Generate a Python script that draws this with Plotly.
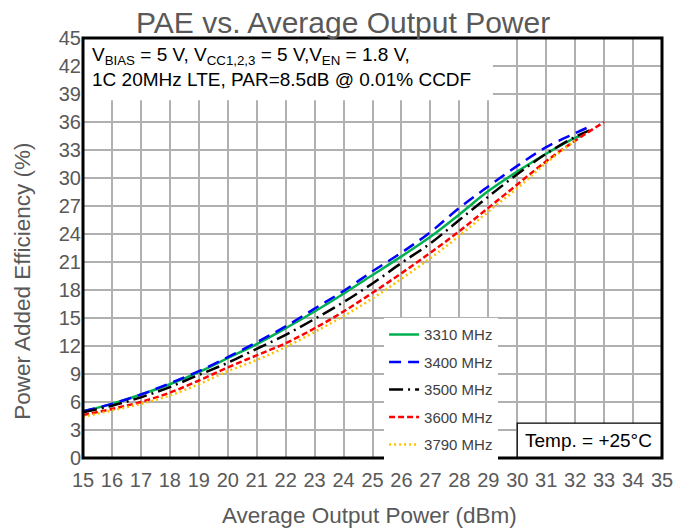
import plotly.graph_objects as go

# ---- data ----
x_3310 = [15, 16, 17, 18, 19, 20, 21, 22, 23, 24, 25, 26, 27, 28, 29, 30, 31, 32, 32.2]
y_3310 = [5.0, 5.8, 6.8, 7.9, 9.2, 10.7, 12.2, 13.9, 15.7, 17.6, 19.6, 21.6, 23.7, 26.1, 28.6, 30.7, 32.6, 34.3, 34.5]

x_3400 = [15, 16, 17, 18, 19, 20, 21, 22, 23, 24, 25, 26, 27, 28, 29, 30, 31, 32, 32.5]
y_3400 = [5.0, 5.8, 6.8, 8.0, 9.3, 10.8, 12.4, 14.1, 16.0, 17.9, 20.0, 22.0, 24.2, 26.8, 29.1, 31.3, 33.3, 34.8, 35.5]

x_3500 = [15, 16, 17, 18, 19, 20, 21, 22, 23, 24, 25, 26, 27, 28, 29, 30, 31, 32, 32.5]
y_3500 = [4.9, 5.6, 6.5, 7.6, 8.9, 10.2, 11.7, 13.2, 14.9, 16.7, 18.7, 20.9, 23.0, 25.5, 28.0, 30.4, 32.6, 34.4, 35.1]

x_3600 = [15, 16, 17, 18, 19, 20, 21, 22, 23, 24, 25, 26, 27, 28, 29, 30, 31, 32, 33]
y_3600 = [4.6, 5.25, 6.0, 7.0, 8.3, 9.7, 11.0, 12.3, 13.9, 15.7, 17.7, 19.8, 22.0, 24.3, 26.8, 29.3, 31.8, 34.0, 36.0]

x_3790 = [15, 16, 17, 18, 19, 20, 21, 22, 23, 24, 25, 26, 27, 28, 29, 30, 31, 32]
y_3790 = [4.4, 5.1, 5.8, 6.7, 7.9, 9.3, 10.5, 11.9, 13.5, 15.2, 17.1, 19.2, 21.4, 23.8, 26.4, 28.9, 31.6, 34.0]

x_ticks = list(range(15, 36))
y_ticks = list(range(0, 46, 3))

series = [
    ("3310 MHz", x_3310, y_3310, "#00b050", "solid"),
    ("3400 MHz", x_3400, y_3400, "#0000ff", "12px,7px"),
    ("3500 MHz", x_3500, y_3500, "#000000", "14px,5px,2px,5px"),
    ("3600 MHz", x_3600, y_3600, "#ff0000", "6px,3px"),
    ("3790 MHz", x_3790, y_3790, "#ffc000", "2px,3px"),
]

FONT = "Liberation Sans, Arial, sans-serif"

fig = go.Figure()
for i, (name, xs, ys, col, dash) in enumerate(series):
    fig.add_trace(go.Scatter(
        x=xs, y=ys, name=name, mode="lines",
        line=dict(color=col, width=2.5, dash=dash, shape="spline"),
        legendgroup=f"g{i}",
    ))

grid_col = "#b0b0b0"
tick_font = dict(family=FONT, size=20, color="#595959")

fig.update_layout(
    width=691, height=531,
    margin=dict(l=75, r=37, t=30, b=81, autoexpand=False),
    paper_bgcolor="white", plot_bgcolor="white",
    title=dict(text="PAE vs. Average Output Power", x=0.485, xanchor="center",
               xref="container", y=0.972, yref="container", yanchor="middle",
               font=dict(family=FONT, size=30, color="#595959")),
    xaxis=dict(range=[15, 35], tickvals=x_ticks, ticktext=[str(v) for v in x_ticks],
               showgrid=True, gridcolor=grid_col, gridwidth=1.5, zeroline=False,
               showline=False, ticks="", tickfont=tick_font, automargin=False,
               ticklabelstandoff=8),
    yaxis=dict(range=[0, 45], tickvals=y_ticks, ticktext=[str(v) for v in y_ticks],
               showgrid=True, gridcolor=grid_col, gridwidth=1.5, zeroline=False,
               showline=False, ticks="", tickfont=tick_font, automargin=False,
               ticklabelstandoff=1),
    legend=dict(x=0.52, y=0.333, xanchor="left", yanchor="top",
                bgcolor="white", borderwidth=0, tracegroupgap=5,
                font=dict(family=FONT, size=15, color="#404040")),
    showlegend=True,
)

# white box behind the conditions text
fig.add_shape(type="rect", xref="paper", yref="paper", x0=0, x1=0.708, y0=0.852, y1=1.0,
              fillcolor="white", line=dict(width=0), layer="above")
# Temp box
fig.add_shape(type="rect", xref="paper", yref="paper", x0=0.75, x1=1.0, y0=0.0, y1=0.083,
              fillcolor="white", line=dict(width=1.2, color="black"), layer="above")
# plot frame
fig.add_shape(type="rect", xref="paper", yref="paper", x0=0, x1=1, y0=0, y1=1,
              fillcolor="rgba(0,0,0,0)", line=dict(width=3, color="black"), layer="above")

fig.add_annotation(
    xref="paper", yref="paper", x=0.012, y=0.99, xanchor="left", yanchor="top",
    align="left", showarrow=False,
    text="V<sub>BIAS</sub> = 5 V, V<sub>CC1,2,3</sub> = 5 V,V<sub>EN</sub> = 1.8 V,<br>1C 20MHz LTE, PAR=8.5dB @ 0.01% CCDF",
    font=dict(family=FONT, size=19, color="black"),
)
fig.add_annotation(
    xref="paper", yref="paper", x=0.873, y=0.0415, xanchor="center", yanchor="middle",
    showarrow=False, text="Temp. = +25°C",
    font=dict(family=FONT, size=19, color="black"),
)
# axis titles
fig.add_annotation(
    xref="paper", yref="paper", x=0.495, y=-0.136, xanchor="center", yanchor="middle",
    showarrow=False, text="Average Output Power (dBm)",
    font=dict(family=FONT, size=22.5, color="#595959"),
)
fig.add_annotation(
    xref="paper", yref="paper", x=-0.105, y=0.42, xanchor="center", yanchor="middle",
    showarrow=False, text="Power Added Efficiency (%)", textangle=-90,
    font=dict(family=FONT, size=22.5, color="#595959"),
)

fig.write_html("out.html")
